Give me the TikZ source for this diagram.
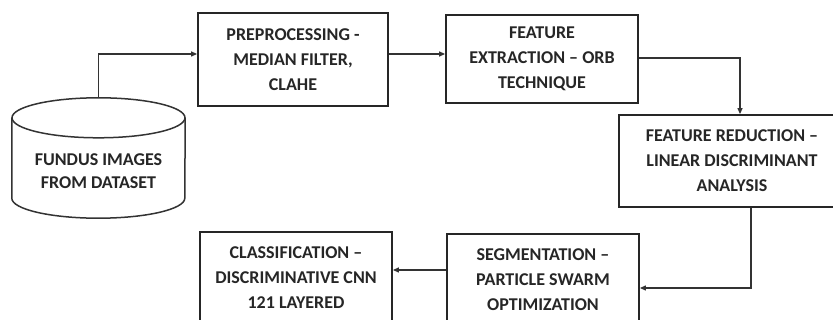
\documentclass[tikz,border=0pt]{standalone}
\usepackage{fontspec}
\setmainfont{Carlito}
\usetikzlibrary{arrows.meta,calc}
\begin{document}
\begin{tikzpicture}[x=1pt,y=-1pt,
  box/.style={draw=black!85, line width=1.8pt, minimum width=190pt, minimum height=92pt,
    inner sep=0pt, align=center, text=black!85, font=\bfseries\fontsize{18}{25}\selectfont},
  conn/.style={draw=black!80, line width=1.2pt},
  arr/.style={conn, -{Triangle[length=6pt,width=5pt]}}]
\useasboundingbox (0,0) rectangle (833,320);
\clip (0,0) rectangle (833,320);
\fill[white] (0,0) rectangle (833,320);
% nodes
\node[box, minimum width=190pt, minimum height=93pt] (pre) at (293,59.5) {PREPROCESSING -\\MEDIAN FILTER,\\CLAHE};
\node[box, minimum width=192pt, minimum height=88pt] (fe) at (542,59) {FEATURE\\EXTRACTION -- ORB\\TECHNIQUE};
\node[box, minimum width=226pt, minimum height=92pt] (fr) at (732,161) {FEATURE REDUCTION --\\LINEAR DISCRIMINANT\\ANALYSIS};
\node[box, minimum width=192pt, minimum height=92pt] (seg) at (543,280) {SEGMENTATION --\\PARTICLE SWARM\\OPTIMIZATION};
\node[box, minimum width=192pt, minimum height=92pt] (cls) at (296,278) {CLASSIFICATION --\\DISCRIMINATIVE CNN\\121 LAYERED};
\node[minimum width=173pt, minimum height=120pt, inner sep=0pt, align=center, text=black!85,
  font=\bfseries\fontsize{18}{23}\selectfont] (db) at (98.5,158) {\\[15pt]FUNDUS IMAGES\\FROM DATASET};
% cylinder drawing
\draw[black!80, line width=1.5pt] ($(db.north)+(0,20)$) ellipse [x radius=86.5pt, y radius=20pt];
\draw[black!80, line width=1.5pt] ($(db.north west)+(0,20)$) -- ($(db.south west)+(0,-20)$)
  arc[start angle=180, end angle=360, x radius=86.5pt, y radius=20pt]
  -- ($(db.north east)+(0,20)$);
% connectors
\coordinate (lvl) at (0,54);
\coordinate (dropx) at (740,0);
\coordinate (downx) at (751,0);
\coordinate (lvlseg) at (0,288);
\coordinate (lvlcls) at (0,270);
\draw[arr] (db.north) |- (pre.west |- lvl);
\draw[arr] (pre.east |- lvl) -- (fe.west |- lvl);
\draw[arr] (fe.east |- 0,58) -| (fr.north -| dropx);
\draw[arr] (fr.south -| downx) |- (seg.east |- lvlseg);
\draw[arr] (seg.west |- lvlcls) -- (cls.east |- lvlcls);
\end{tikzpicture}
\end{document}
